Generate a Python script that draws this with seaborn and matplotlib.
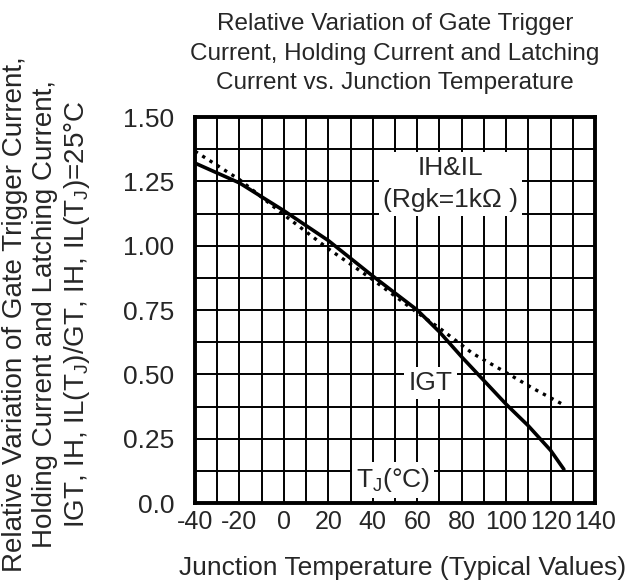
import pandas as pd
import numpy as np
import seaborn as sns
import matplotlib.pyplot as plt

# values
igt_temp = [-40, -20, 0, 20, 40, 60, 70, 80, 90, 100, 110, 120, 126]
igt_rel = [1.321, 1.244, 1.136, 1.020, 0.882, 0.750, 0.665, 0.568, 0.476, 0.384,
           0.300, 0.205, 0.131]

ih_temp = [-40, -20, 0, 20, 40, 60, 70, 85, 99, 112, 126]
ih_rel = [1.367, 1.257, 1.120, 0.988, 0.868, 0.740, 0.680, 0.581, 0.512, 0.446, 0.381]

x_ticks = [-40, -20, 0, 20, 40, 60, 80, 100, 120, 140]
y_ticks = [0.0, 0.25, 0.5, 0.75, 1.0, 1.25, 1.5]
y_labels = ['0.0', '0.25', '0.50', '0.75', '1.00', '1.25', '1.50']

sns.set_style('white')
plt.rcParams['font.family'] = ['Liberation Sans', 'DejaVu Sans']
plt.rcParams['mathtext.fontset'] = 'custom'
plt.rcParams['mathtext.rm'] = 'Liberation Sans'

igt = pd.DataFrame({'temp': igt_temp, 'rel': igt_rel})
ih = pd.DataFrame({'temp': ih_temp, 'rel': ih_rel})

fig = plt.figure(figsize=(6.38, 5.86), dpi=100)
ax = fig.add_axes([0.3056, 0.1416, 0.627, 0.6587])

sns.lineplot(data=igt, x='temp', y='rel', color='black', lw=2.6, ax=ax)
sns.lineplot(data=ih, x='temp', y='rel', color='black', lw=2.4, ax=ax,
             linestyle=(0, (1.0, 1.6)))

ax.set_xlim(-40, 140)
ax.set_ylim(0, 1.5)
ax.set_xticks(np.arange(-40, 141, 10), minor=True)
ax.set_yticks(np.arange(0, 1.51, 0.125), minor=True)
ax.set_xticks(x_ticks)
ax.set_xticklabels([str(t) for t in x_ticks])
ax.set_yticks(y_ticks)
ax.set_yticklabels(y_labels)
ax.grid(True, which='both', color='black', lw=1.4)
ax.tick_params(which='both', length=0)
ax.tick_params(axis='y', pad=15, labelsize=19)
ax.tick_params(axis='x', pad=5, labelsize=18)
for s in ax.spines.values():
    s.set_visible(True)
    s.set_color('black')
    s.set_linewidth(2.8)

box = dict(facecolor='white', edgecolor='none', pad=3)
ax.text(75, 1.24, 'IH&IL\n(Rgk=1k\u03a9 )', fontsize=19, ha='center', va='center',
        linespacing=1.4, bbox=box)
ax.text(66, 0.466, 'IGT', fontsize=19, ha='center', va='center', bbox=box)
ax.text(49, 0.089, 'T$_\\mathrm{J}$(\u00b0C)', fontsize=19, ha='center', va='center', bbox=box)

ax.set_title('Relative Variation of Gate Trigger\nCurrent, Holding Current and Latching\nCurrent vs. Junction Temperature',
             fontsize=17.5, linespacing=1.45, pad=20)
ax.set_xlabel('Junction Temperature (Typical Values)', fontsize=19)
ax.xaxis.set_label_coords(0.52, -0.138)
ax.set_ylabel('Relative Variation of Gate Trigger Current,\nHolding Current and Latching Current,\n'
              'IGT, IH, IL(T$_\\mathrm{J}$)/GT, IH, IL(T$_\\mathrm{J}$)=25\u00b0C',
              fontsize=20, linespacing=1.2)
ax.yaxis.set_label_coords(-0.2575, 0.49)

fig.savefig('out.png', dpi=100)
